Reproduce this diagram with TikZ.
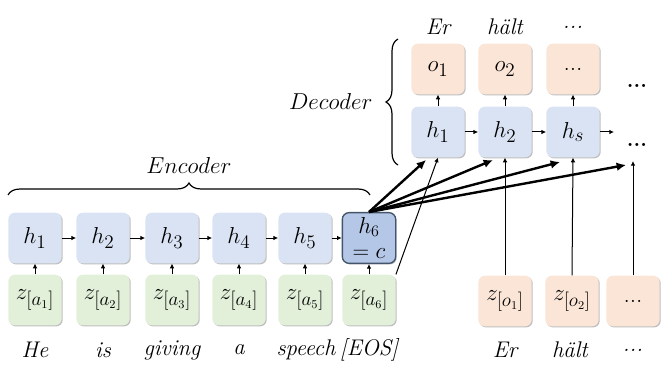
\documentclass[tikz,border=0pt]{standalone}
\usepackage{amsmath,amssymb}
\usetikzlibrary{arrows.meta,shadows,decorations.pathreplacing}

\definecolor{encblue}{RGB}{218,227,243}
\definecolor{ctxblue}{RGB}{180,199,231}
\definecolor{ctxborder}{RGB}{68,84,106}
\definecolor{inpgreen}{RGB}{226,240,217}
\definecolor{outorange}{RGB}{251,229,214}

\tikzset{
  cell/.style={rounded corners=5pt, minimum width=40pt, minimum height=38pt, inner sep=0pt,
    font=\fontsize{19}{21}\selectfont,
    drop shadow={shadow xshift=0.8pt, shadow yshift=-0.8pt, opacity=0.25, fill=black}},
  hcell/.style={cell, fill=encblue},
  zcell/.style={cell, fill=inpgreen},
  ocell/.style={cell, fill=outorange},
  ccell/.style={cell, fill=ctxblue, draw=ctxborder, line width=1pt, align=center, font=\fontsize{18}{19}\selectfont},
  word/.style={font=\fontsize{17}{19}\selectfont\itshape, inner sep=0.75pt},
  link/.style={-{Latex[length=3.5pt,width=3.5pt]}, line width=0.75pt},
  feed/.style={-{Latex[length=7pt,width=6.5pt]}, line width=1.8pt},
  plain/.style={line width=0.75pt, -{Latex[length=3.5pt,width=3.5pt]}},
  brc/.style={decorate, decoration={brace, amplitude=9pt}, line width=0.9pt}
}

\begin{document}
\begin{tikzpicture}[x=0.75pt,y=0.75pt,yscale=-1,xscale=1]
\path (0,0) rectangle (664,374);

% Encoder states
\node [hcell] (h1) at (35,238) {$h_1$};
\node [hcell] (h2) at (103,238) {$h_2$};
\node [hcell] (h3) at (172,238) {$h_3$};
\node [hcell] (h4) at (239,238) {$h_4$};
\node [hcell] (h5) at (305,238) {$h_5$};
\node [ccell] (h6) at (369,238) {$h_6$\\$=c$};

% Encoder inputs
\node [zcell] (za1) at (35,300) {$z_{[a_1]}$};
\node [zcell] (za2) at (103,300) {$z_{[a_2]}$};
\node [zcell] (za3) at (172,300) {$z_{[a_3]}$};
\node [zcell] (za4) at (239,300) {$z_{[a_4]}$};
\node [zcell] (za5) at (305,300) {$z_{[a_5]}$};
\node [zcell] (za6) at (369,300) {$z_{[a_6]}$};

% Source words
\node [word] (w1) at (35,350) {He};
\node [word] (w2) at (103,350) {is};
\node [word] (w3) at (172,350) {giving};
\node [word] (w4) at (239,350) {a};
\node [word] (w5) at (306,350) {speech};
\node [word] (w6) at (369,350) {[EOS]};

% Decoder states and outputs
\node [hcell] (d1) at (438,132) {$h_1$};
\node [hcell] (d2) at (505,132) {$h_2$};
\node [hcell] (ds) at (573,132) {$h_s$};
\node [ocell] (o1) at (438,69) {$o_1$};
\node [ocell] (o2) at (505,69) {$o_2$};
\node [ocell] (o3) at (573,69) {...};

% Target words
\node [word] (e1) at (438,27) {Er};
\node [word] (e2) at (505,27) {hält};
\node [word] (e3) at (573,27) {...};

% Decoder inputs
\node [ocell] (zo1) at (505,301) {$z_{[o_1]}$};
\node [ocell] (zo2) at (572,301) {$z_{[o_2]}$};
\node [ocell] (zo3) at (633,301) {...};
\node [word] (f1) at (505,350) {Er};
\node [word] (f2) at (570,350) {hält};
\node [word] (f3) at (633,350) {...};

% Trailing dots
\node [font=\fontsize{16}{18}\selectfont\bfseries] (dotso) at (637,86) {...};
\node [font=\fontsize{16}{18}\selectfont\bfseries] (dotsh) at (637,145) {...};
\coordinate (hend) at (614,132);
\coordinate (zend) at (633,161);

% Feed points under the decoder
\coordinate (t1) at (426,160);
\coordinate (t2) at (493,160);
\coordinate (t3) at (560,162);
\coordinate (t4) at (626,165);

% Recurrent links
\draw [link] (h1) -- (h2);
\draw [link] (h2) -- (h3);
\draw [link] (h3) -- (h4);
\draw [link] (h4) -- (h5);
\draw [link] (h5) -- (h6);
\draw [link] (d1) -- (d2);
\draw [link] (d2) -- (ds);
\draw [link] (ds.east) -- (hend);

% Inputs up
\draw [link] (za1) -- (h1);
\draw [link] (za2) -- (h2);
\draw [link] (za3) -- (h3);
\draw [link] (za4) -- (h4);
\draw [link] (za5) -- (h5);
\draw [link] (za6) -- (h6);
\draw [link] (d1) -- (o1);
\draw [link] (d2) -- (o2);
\draw [link] (ds) -- (o3);

% Context vector
\draw [feed] (h6.north) -- (t1);
\draw [feed] (h6.north) -- (t2);
\draw [feed] (h6.north) -- (t3);
\draw [feed] (h6.north) -- (t4);

% Decoder inputs up
\draw [plain] (za6.north east) -- (d1.south);
\draw [plain] (zo1.north) -- (d2.south);
\draw [plain] (zo2.north) -- (ds.south);
\draw [plain] (zo3.north) -- (zend);

% Braces
\draw [brc] (8,195) -- (370,195) node [midway, above=15pt, word] (enc) {$Encoder$};
\draw [brc] (398,165) -- (398,39) node [midway, left=18pt, word] (dec) {$Decoder$};

\end{tikzpicture}
\end{document}
